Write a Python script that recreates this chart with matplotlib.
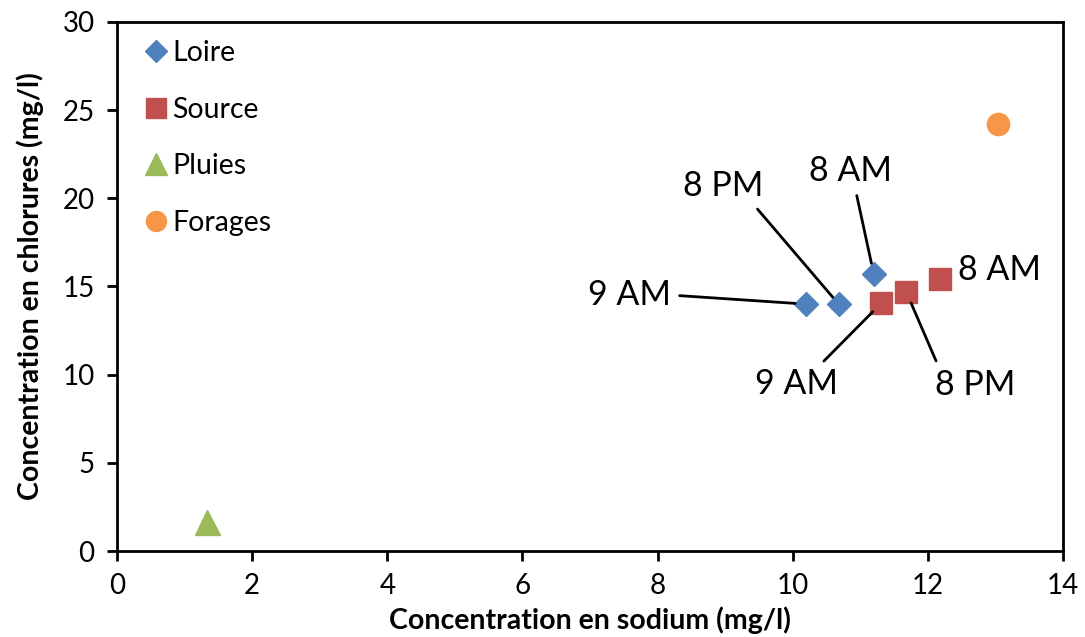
import matplotlib.pyplot as plt

# values
loire_na = [10.2, 10.68, 11.2]
loire_cl = [14.0, 14.0, 15.7]
loire_times = ['9 AM', '8 PM', '8 AM']

source_na = [11.31, 11.68, 12.18]
source_cl = [14.05, 14.7, 15.4]
source_times = ['9 AM', '8 PM', '8 AM']

pluies_na = [1.33]
pluies_cl = [1.65]

forages_na = [13.04]
forages_cl = [24.2]

plt.rcParams['font.family'] = ['Lato', 'DejaVu Sans']

fig = plt.figure(figsize=(10.85, 6.37), dpi=100)
ax = fig.add_axes([0.1078, 0.135, 0.8719, 0.8305])

ax.plot(loire_na, loire_cl, 'D', color='#4F81BD', ms=12, mec='#4F81BD', ls='none', label='Loire')
ax.plot(source_na, source_cl, 's', color='#C0504D', ms=16, mec='#C0504D', ls='none', label='Source')
ax.plot(pluies_na, pluies_cl, '^', color='#9BBB59', ms=18, mec='#9BBB59', ls='none', label='Pluies')
ax.plot(forages_na, forages_cl, 'o', color='#F79646', ms=16, mec='#F79646', ls='none', label='Forages')

ax.set_xlim(0, 14)
ax.set_ylim(0, 30)
ax.set_xticks(range(0, 15, 2))
ax.set_yticks(range(0, 31, 5))

for s in ax.spines.values():
    s.set_linewidth(2)
    s.set_color('black')
ax.tick_params(direction='out', length=7, width=2, labelsize=20, pad=9)

ax.set_xlabel('Concentration en sodium (mg/l)', fontsize=20.5, fontweight='bold', labelpad=5)
ax.set_ylabel('Concentration en chlorures (mg/l)', fontsize=20.5, fontweight='bold', labelpad=13)

# label layout: (text offset in points, relpos of leader start, shrink at marker)
loire_lab = [((-127, 6.5), (1.0, 0.5), 8), ((-83, 85), (0.85, 0.0), 6.5), ((-16.5, 74), (0.55, 0.0), 8)]
source_lab = [((-61, -58), (0.75, 1.0), 8.6), ((50, -67), (0.05, 1.0), 8.8), ((42.5, 7), None, 0)]

def label_points(xs, ys, names, layout):
    for x, y, name, (off, rel, shr) in zip(xs, ys, names, layout):
        if rel is None:
            ax.annotate(name, (x, y), xytext=off, textcoords='offset points',
                        ha='center', va='center', fontsize=24.5)
        else:
            ax.annotate(name, (x, y), xytext=off, textcoords='offset points',
                        ha='center', va='center', fontsize=24.5,
                        arrowprops=dict(arrowstyle='-', color='black', lw=2,
                                        relpos=rel, shrinkA=4, shrinkB=shr))

label_points(loire_na, loire_cl, loire_times, loire_lab)
label_points(source_na, source_cl, source_times, source_lab)

ax.legend(loc='upper left', frameon=False, fontsize=20.5, handletextpad=0.0,
          labelspacing=1.08, borderaxespad=0.3, handlelength=1.1,
          bbox_to_anchor=(0.004, 1.004), markerscale=0.9)

fig.savefig('out.png', dpi=100)
